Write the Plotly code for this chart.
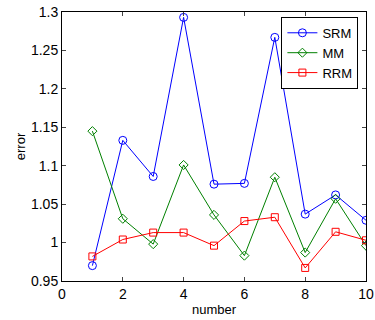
import plotly.graph_objects as go

x = [1, 2, 3, 4, 5, 6, 7, 8, 9, 10]
srm = [0.970, 1.133, 1.086, 1.293, 1.076, 1.077, 1.267, 1.037, 1.062, 1.029]
mm = [1.145, 1.031, 0.998, 1.101, 1.036, 0.983, 1.085, 0.987, 1.057, 0.996]
rrm = [0.982, 1.004, 1.013, 1.013, 0.996, 1.028, 1.033, 0.967, 1.014, 1.003]
xticks = [0, 2, 4, 6, 8, 10]
yticks = [0.95, 1.0, 1.05, 1.1, 1.15, 1.2, 1.25, 1.3]
yticklabels = ["0.95", "1", "1.05", "1.1", "1.15", "1.2", "1.25", "1.3"]

fig = go.Figure()
fig.add_trace(go.Scatter(x=x, y=srm, name="SRM", mode="lines+markers",
                         line=dict(color="#0000ff", width=1),
                         marker=dict(symbol="circle-open", size=8, color="#0000ff", line=dict(width=1))))
fig.add_trace(go.Scatter(x=x, y=mm, name="MM", mode="lines+markers",
                         line=dict(color="#008000", width=1),
                         marker=dict(symbol="diamond-open", size=7, color="#008000", line=dict(width=1))))
fig.add_trace(go.Scatter(x=x, y=rrm, name="RRM", mode="lines+markers",
                         line=dict(color="#ff0000", width=1),
                         marker=dict(symbol="square-open", size=7, color="#ff0000", line=dict(width=1))))

font = "Liberation Sans, Arial, sans-serif"
fig.update_layout(
    width=375, height=320,
    margin=dict(l=62, r=9, t=12, b=39),
    paper_bgcolor="white", plot_bgcolor="white",
    font=dict(family=font, size=14, color="black"),
    showlegend=True,
    legend=dict(x=0.975, y=0.982, xanchor="right", yanchor="top",
                bordercolor="black", borderwidth=1, bgcolor="white",
                font=dict(size=13), tracegroupgap=0, itemwidth=30),
    xaxis=dict(range=[0, 10], tickvals=xticks, ticks="inside", ticklen=4,
               showline=True, linecolor="black", linewidth=1, mirror="ticks",
               showgrid=False, zeroline=False, automargin=False,
               tickfont=dict(size=14),
               title=dict(text="number", font=dict(size=13), standoff=4)),
    yaxis=dict(range=[0.95, 1.3], tickvals=yticks, ticktext=yticklabels,
               ticks="inside", ticklen=4,
               showline=True, linecolor="black", linewidth=1, mirror="ticks",
               showgrid=False, zeroline=False, automargin=False,
               tickfont=dict(size=14),
               title=dict(text="error", font=dict(size=13), standoff=2)),
)
fig.write_html("out.html", config={"displayModeBar": False})

# remove the default page margin so the 375x320 figure fills the window
with open("out.html", encoding="utf-8") as f:
    html = f.read()
html = html.replace("<head>", "<head><style>html,body{margin:0;padding:0;overflow:hidden;}</style>", 1)
with open("out.html", "w", encoding="utf-8") as f:
    f.write(html)
